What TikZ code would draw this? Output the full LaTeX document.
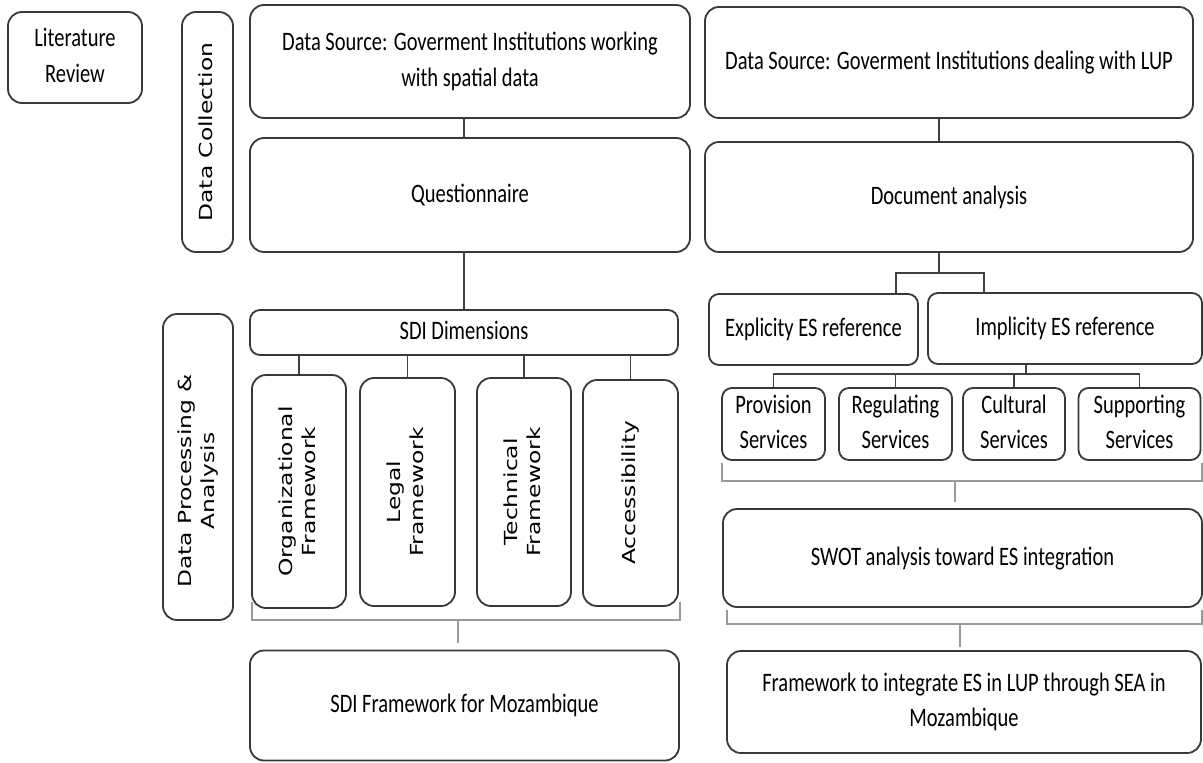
\documentclass[tikz,border=0pt]{standalone}
\usepackage{fontspec}
\usepackage{graphicx}
\setmainfont{Carlito}
\newfontfamily\vertfont{DejaVu Sans}
\usetikzlibrary{positioning}

% texte étiré (comme la figure d'origine)
\newcommand{\tallt}[1]{\scalebox{1}[1.3]{\begin{tabular}{@{}c@{}}#1\end{tabular}}}
\newcommand{\longt}[1]{\scalebox{1.3}[1]{\begin{tabular}{@{}c@{}}#1\end{tabular}}}

\begin{document}
\begin{tikzpicture}[x=1pt, y=-1pt, >=stealth]

        % Styles
        \tikzstyle{box}=[rectangle, draw=black!78, line width=1.8pt, rounded corners=14pt, align=center, inner sep=0pt, font=\fontsize{20.5}{27}\selectfont]
        \tikzstyle{smallbox}=[box, rounded corners=10pt]
        \tikzstyle{vbox}=[box, rotate=90, font=\vertfont\fontsize{18}{23}\selectfont]
        \tikzstyle{link}=[draw=black!75, line width=1.5pt]
        \tikzstyle{brace}=[draw=black!40, line width=1.4pt]

        \useasboundingbox (0,0) rectangle (1203,763);

        % Colonne de gauche
        \node[box, minimum width=134pt, minimum height=91pt] (litrev) at (75,57.5) {\tallt{Literature\\Review}};
        \node[vbox, minimum width=240pt, minimum height=51pt] (collect) at (207.5,132) {\longt{Data Collection}};
        \node[vbox, minimum width=306pt, minimum height=70pt] (process) at (198,467) {\longt{Data Processing \&\\Analysis}\hspace*{28pt}};

        % SDI
        \node[box, minimum width=440pt, minimum height=113pt] (src1) at (470,61.5) {\tallt{Data Source: Goverment Institutions working\\with spatial data}};
        \node[box, minimum width=440pt, minimum height=114pt] (quest) at (470,195) {\tallt{Questionnaire}};
        \node[smallbox, minimum width=428pt, minimum height=45pt] (dims) at (464,332.5) {\tallt{SDI Dimensions}};
        \node[vbox, minimum width=233pt, minimum height=94pt] (orgfw) at (299,491.5) {\longt{Organizational\\Framework}};
        \node[vbox, minimum width=228pt, minimum height=95pt] (legfw) at (407.5,492) {\longt{Legal\\Framework}};
        \node[vbox, minimum width=228pt, minimum height=94pt] (tecfw) at (524,492) {\longt{Technical\\Framework}};
        \node[vbox, minimum width=226pt, minimum height=95pt] (access) at (630.5,493) {\longt{Accessibility}};
        \node[box, minimum width=429pt, minimum height=110pt] (sdifw) at (464.5,705.5) {\tallt{SDI Framework for Mozambique}};

        % ES / LUP
        \node[box, minimum width=488pt, minimum height=111pt] (src2) at (949,62.5) {\tallt{Data Source: Goverment Institutions dealing with LUP}};
        \node[box, minimum width=488pt, minimum height=110pt] (docan) at (949,197) {\tallt{Document analysis}};
        \node[smallbox, minimum width=209pt, minimum height=71pt] (explicit) at (813.5,329.5) {\tallt{Explicity ES reference}};
        \node[smallbox, minimum width=274pt, minimum height=71pt] (implicit) at (1065,328.5) {\tallt{Implicity ES reference}};
        \node[smallbox, minimum width=103pt, minimum height=72pt] (prov) at (773.5,424) {\tallt{Provision\\Services}};
        \node[smallbox, minimum width=113pt, minimum height=72pt] (regul) at (895.5,424) {\tallt{Regulating\\Services}};
        \node[smallbox, minimum width=102pt, minimum height=72pt] (cultur) at (1014,424) {\tallt{Cultural\\Services}};
        \node[smallbox, minimum width=122pt, minimum height=72pt] (support) at (1139.5,424) {\tallt{Supporting\\Services}};
        \node[box, minimum width=479pt, minimum height=98pt] (swot) at (962.5,558) {\tallt{SWOT analysis toward ES integration}};
        \node[box, minimum width=474pt, minimum height=102pt] (esfw) at (964,702) {\tallt{Framework to integrate ES in LUP through SEA in\\Mozambique}};

        % Liaisons
        \draw[link] (src1.south -| dims.north) -- (quest.north -| dims.north);
        \draw[link] (quest.south -| dims.north) -- (dims.north);
        \foreach \d in {orgfw, legfw, tecfw, access}
            \draw[link] (dims.south -| \d.east) -- (\d.east);

        \coordinate (splitl) at (896,273);
        \coordinate (splitm) at (939,273);
        \coordinate (splitr) at (984,273);
        \draw[link] (src2.south -| splitm) -- (docan.north -| splitm);
        \draw[link] (docan.south -| splitm) -- (splitm);
        \draw[link] (splitl |- explicit.north) -- (splitl) -- (splitr) -- (splitr |- implicit.north);
        \coordinate (servbar) at (773.5,374);
        \coordinate (servmid) at (1026,374);
        \draw[link] (implicit.south -| servmid) -- (servmid);
        \draw[link] (prov.north) -- (servbar) -- (servbar -| support.north) -- (support.north);
        \draw[link] (servbar -| regul.north) -- (regul.north);
        \draw[link] (servbar -| cultur.north) -- (cultur.north);

        % Accolades
        \coordinate (brsdi) at (458,620);
        \draw[brace] (252,602) |- (680,620) -- (680,602);
        \draw[brace] (brsdi) -- ([yshift=7pt]sdifw.north -| brsdi);
        \coordinate (brserv) at (955,481);
        \draw[brace] (722,463) |- (1202,481) -- (1202,463);
        \draw[brace] (brserv) -- ([yshift=6pt]swot.north -| brserv);
        \coordinate (brswot) at (960,624);
        \draw[brace] (727,610) |- (1202,624) -- (1202,610);
        \draw[brace] (brswot) -- ([yshift=3pt]esfw.north -| brswot);

    \end{tikzpicture}
\end{document}
